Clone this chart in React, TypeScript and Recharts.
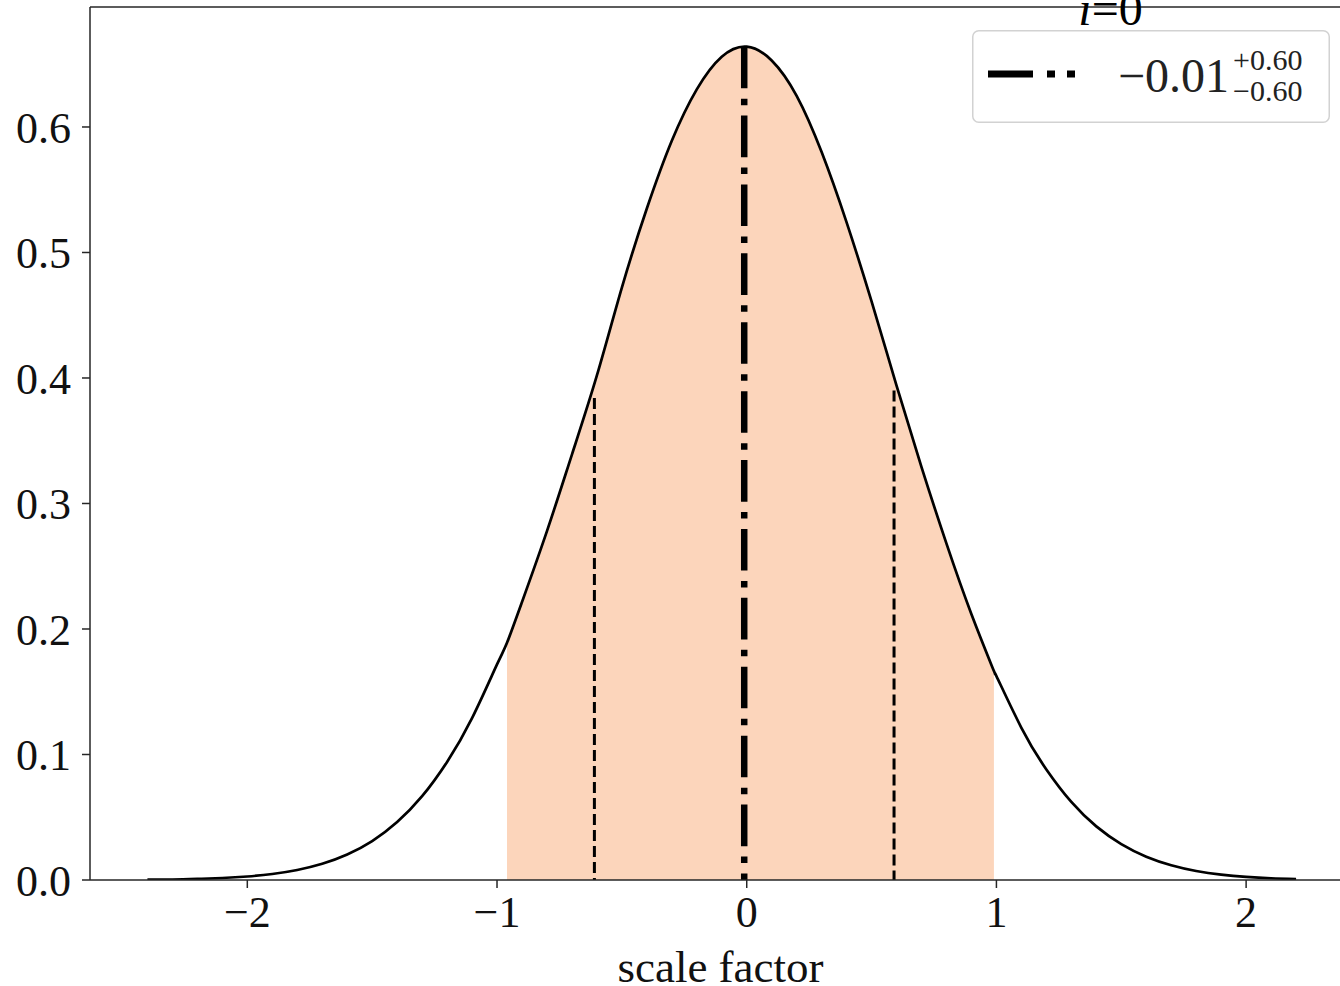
import React from 'react';
import { ComposedChart, Line, Area, XAxis, YAxis, ReferenceLine, Legend } from 'recharts';

// scale factor samples (x)
const scaleFactor = [
  -2.4, -2.3, -2.2, -2.1, -2.0, -1.9, -1.8, -1.7, -1.6, -1.5, -1.4, -1.3, -1.2, -1.1, -1.0, -0.96,
  -0.9, -0.8, -0.7, -0.6, -0.5, -0.4, -0.3, -0.2, -0.1, 0.0, 0.1, 0.2, 0.3, 0.4, 0.5, 0.6, 0.7,
  0.8, 0.9, 0.99, 1.0, 1.1, 1.2, 1.3, 1.4, 1.5, 1.6, 1.7, 1.8, 1.9, 2.0, 2.1, 2.2,
];
// probability density
const density = [
  0.0003, 0.0004, 0.0009, 0.0016, 0.0028, 0.0048, 0.008, 0.0129, 0.0203, 0.031, 0.0462, 0.0668,
  0.0941, 0.129, 0.1718, 0.189, 0.2215, 0.278, 0.339, 0.402, 0.472, 0.535, 0.589, 0.63, 0.656,
  0.664, 0.653, 0.6248, 0.58, 0.524, 0.461, 0.394, 0.329, 0.268, 0.2118, 0.1665, 0.1625, 0.1213,
  0.0881, 0.0622, 0.0427, 0.0286, 0.0186, 0.0118, 0.0072, 0.0043, 0.0025, 0.0014, 0.0008,
];
// shaded interval
const bandLow = -0.96;
const bandHigh = 0.99;
// summary statistics
const median = -0.01;
const peak = 0.664;
const lower = -0.61;
const lowerTop = 0.384;
const upper = 0.59;
const upperTop = 0.39;

const xTicks = [-2, -1, 0, 1, 2];
const yTicks = [0, 0.1, 0.2, 0.3, 0.4, 0.5, 0.6];
const xDomain = [-2.63, 2.42];
const yDomain = [0, 0.6956];

const legendMain = '\u22120.01';
const legendUp = '+0.60';
const legendDown = '\u22120.60';
const titleItalic = 'i';
const titleRest = '=0';
const xLabel = 'scale factor';

const data = scaleFactor.map((x, i) => ({
  x,
  y: density[i],
  band: x >= bandLow - 1e-9 && x <= bandHigh + 1e-9 ? density[i] : null,
}));

const FONT = '"Liberation Serif", "Times New Roman", serif';
const SPINE = '#262626';

const fmtX = (v: number) => (v < 0 ? '\u2212' + Math.abs(v) : String(v));
const fmtY = (v: number) => v.toFixed(1);

const renderLegend = () => (
  <svg width={358} height={93} style={{ display: 'block' }}>
    <rect x={0.75} y={0.75} width={356.5} height={91.5} rx={6} ry={6} fill="rgba(255,255,255,0.85)" stroke="#d2d2d2" strokeWidth={1.5} />
    <line x1={16} y1={44} x2={104} y2={44} stroke="#000" strokeWidth={7} strokeDasharray="45 14 8 12 8 100" />
    <text x={146} y={62} fontFamily={FONT} fontSize={48} fill="#222">{legendMain}</text>
    <text x={261} y={40} fontFamily={FONT} fontSize={30} fill="#222">{legendUp}</text>
    <text x={261} y={71} fontFamily={FONT} fontSize={30} fill="#222">{legendDown}</text>
  </svg>
);

export default function App() {
  return (
    <div style={{ position: 'absolute', left: 0, top: 0, width: 1340, height: 986, overflow: 'hidden', background: '#fff' }}>
      <ComposedChart
        width={1360}
        height={986}
        data={data}
        margin={{ top: 7, right: 9, bottom: 0, left: 0 }}
      >
        <XAxis
          dataKey="x"
          type="number"
          domain={xDomain}
          ticks={xTicks}
          tickFormatter={fmtX}
          allowDataOverflow
          height={106}
          tickSize={8}
          tickMargin={8}
          stroke={SPINE}
          strokeWidth={1.5}
          tick={{ fontFamily: FONT, fontSize: 44, fill: '#111' }}
          label={{ value: xLabel, position: 'insideBottom', offset: 4, fontFamily: FONT, fontSize: 45, fill: '#111' }}
        />
        <YAxis
          type="number"
          domain={yDomain}
          ticks={yTicks}
          tickFormatter={fmtY}
          allowDataOverflow
          width={90}
          tickSize={8}
          tickMargin={11}
          stroke={SPINE}
          strokeWidth={1.5}
          tick={{ fontFamily: FONT, fontSize: 44, fill: '#111' }}
        />
        <ReferenceLine y={yDomain[1]} stroke={SPINE} strokeWidth={1.5} />
        <Area
          type="natural"
          dataKey="band"
          stroke="none"
          fill="#fcd5bb"
          fillOpacity={1}
          isAnimationActive={false}
          connectNulls={false}
          legendType="none"
        />
        <ReferenceLine
          segment={[{ x: median, y: peak }, { x: median, y: 0 }]}
          stroke="#000"
          strokeWidth={6.5}
          strokeDasharray="41.6 10.4 6.5 10.4"
        />
        <ReferenceLine
          segment={[{ x: lower, y: lowerTop }, { x: lower, y: 0 }]}
          stroke="#000"
          strokeWidth={3}
          strokeDasharray="11 5"
        />
        <ReferenceLine
          segment={[{ x: upper, y: upperTop }, { x: upper, y: 0 }]}
          stroke="#000"
          strokeWidth={3}
          strokeDasharray="11 5"
        />
        <Line
          type="natural"
          dataKey="y"
          stroke="#000"
          strokeWidth={2.7}
          dot={false}
          activeDot={false}
          isAnimationActive={false}
          legendType="none"
        />
        <Legend
          layout="horizontal"
          verticalAlign="middle"
          align="center"
          content={renderLegend}
          wrapperStyle={{ position: 'absolute', left: 972, top: 30, width: 358, height: 93, margin: 0 }}
        />
      </ComposedChart>
      <svg width={1340} height={60} style={{ position: 'absolute', left: 0, top: 0, pointerEvents: 'none' }}>
        <text x={1110.5} y={25} textAnchor="middle" fontFamily={FONT} fontSize={48} fill="#000">
          <tspan fontStyle="italic">{titleItalic}</tspan>
          {titleRest}
        </text>
      </svg>
    </div>
  );
}
